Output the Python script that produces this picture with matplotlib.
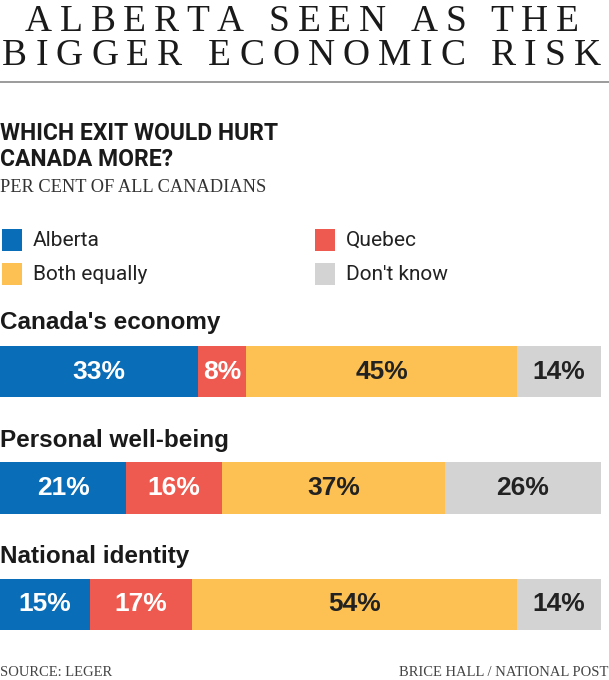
import numpy as np
import matplotlib
matplotlib.use("Agg")
from matplotlib import pyplot as plt

# survey results, per cent
questions = ["Canada's economy", "Personal well-being", "National identity"]
answers = ["Alberta", "Quebec", "Both equally", "Don't know"]
alberta = [33, 21, 15]
quebec = [8, 16, 17]
both = [45, 37, 54]
dont_know = [14, 26, 14]

colors = ["#0a6db7", "#ee5a4f", "#fcc152", "#d3d3d3"]
label_colors = ["white", "white", "#222222", "#222222"]

serif = ["Liberation Serif", "DejaVu Serif"]
narrow = ["Roboto", "DejaVu Sans"]
bold_sans = ["Liberation Sans", "DejaVu Sans"]

fig = plt.figure(figsize=(6.09, 6.8), dpi=100)
fig.patch.set_facecolor("white")

# overlay axes in pixel coordinates for all the text
ax = fig.add_axes([0, 0, 1, 1])
ax.set_xlim(0, 609)
ax.set_ylim(680, 0)
ax.axis("off")

renderer = fig.canvas.get_renderer()


def tracked(s, x0, x1, y, size):
    ## letter-spaced title line, stretched between x0 and x1
    texts = []
    widths = []
    for ch in s:
        t = ax.text(0, y, ch, fontsize=size, family=serif, color="#1a1a1a",
                    va="center", ha="left")
        texts.append(t)
        if ch == " ":
            widths.append(size * 100 / 72 * 0.25)
        else:
            widths.append(t.get_window_extent(renderer).width)
    gap = (x1 - x0 - sum(widths)) / (len(s) - 1)
    x = x0
    for t, w in zip(texts, widths):
        t.set_x(x)
        x += w + gap


tracked("ALBERTA SEEN AS THE", 25, 579, 22, 27)
tracked("BIGGER ECONOMIC RISK", 2, 601, 56, 27)
ax.plot([0, 609], [82, 82], color="#8a8a8a", lw=1.2)

ax.text(0, 133, "WHICH EXIT WOULD HURT", fontsize=16.5, fontweight="bold",
        family=narrow, color="#1a1a1a", va="center")
ax.text(0, 160, "CANADA MORE?", fontsize=16.5, fontweight="bold",
        family=narrow, color="#1a1a1a", va="center")
ax.text(0, 188, "PER CENT OF ALL CANADIANS", fontsize=13.2, family=serif,
        color="#333333", va="center")

# legend
leg_pos = [(2, 240), (315, 240), (2, 274), (315, 274)]
for (lx, ly), name, c in zip(leg_pos, answers, colors):
    ax.add_patch(plt.Rectangle((lx, ly - 11), 20, 22, color=c, lw=0))
    ax.text(lx + 31, ly, name, fontsize=15, family=narrow, color="#222222",
            va="center")

# question headings
for q, y in zip(questions, [322, 440, 557]):
    ax.text(0, y, q, fontsize=17.5, fontweight="bold", family=bold_sans,
            color="#1a1a1a", va="center")

# stacked bars
bx = fig.add_axes([0, (680 - 632) / 680, 601 / 609, (632 - 344) / 680])
series = [alberta, quebec, both, dont_know]
ypos = np.arange(len(questions))
left = np.zeros(len(questions))
for vals, c, tc in zip(series, colors, label_colors):
    vals = np.array(vals)
    bx.barh(ypos, vals, left=left, height=0.44, color=c, lw=0)
    for i, v in enumerate(vals):
        bx.text(left[i] + v / 2, ypos[i], f"{v}%", ha="center", va="center",
                fontsize=19, fontweight="bold", family=bold_sans, color=tc)
    left += vals
bx.set_xlim(0, 100)
bx.set_ylim(2.24, -0.24)
bx.axis("off")

ax.text(0, 672, "SOURCE: LEGER", fontsize=10.5, family=serif, color="#444444",
        va="center")
ax.text(608, 672, "BRICE HALL / NATIONAL POST", fontsize=10.5, family=serif,
        color="#444444", va="center", ha="right")

plt.savefig("out.png", dpi=100, facecolor="white")
